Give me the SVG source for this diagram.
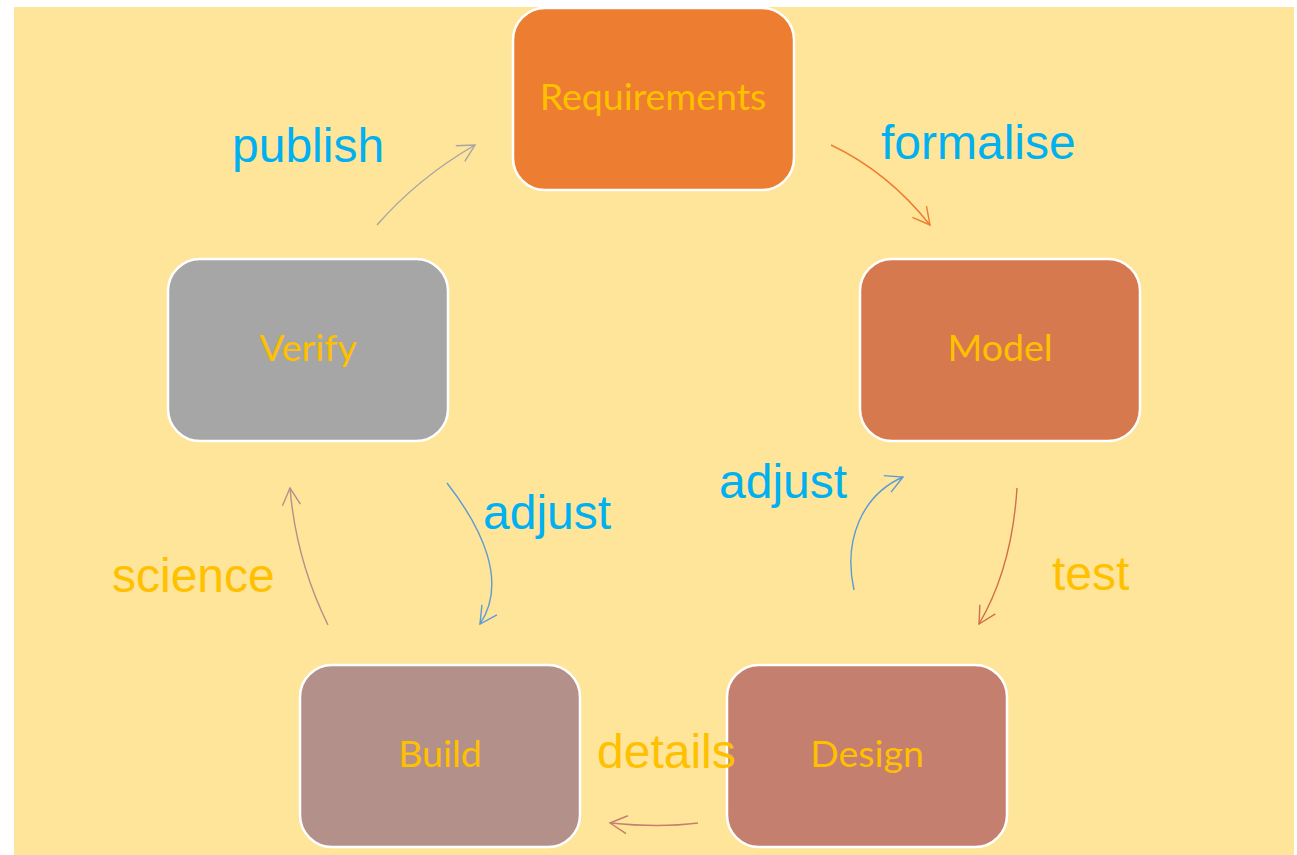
<svg xmlns="http://www.w3.org/2000/svg" width="1297" height="855" viewBox="0 0 1297 855">
  <style>
    .box { stroke: #ffffff; stroke-width: 2.5; }
    .boxlabel { font-family: Lato, "Noto Sans", sans-serif; font-size: 37.5px; fill: #FFC000; text-anchor: middle; }
    .edgelabel { font-family: "Liberation Sans", Arial, sans-serif; font-size: 48px; }
    .blue { fill: #00B0F0; }
    .gold { fill: #FFC000; }
    .conn { fill: none; stroke-width: 1.4; }
  </style>
  <defs>
    <marker id="ah-grey" markerUnits="userSpaceOnUse" markerWidth="40" markerHeight="40" refX="0" refY="0" viewBox="-20 -20 40 40" orient="auto" overflow="visible">
      <path d="M-17,-9 L0,0 L-17,9" fill="none" stroke="#A5A5A5" stroke-width="1.4"/>
    </marker>
    <marker id="ah-orange" markerUnits="userSpaceOnUse" markerWidth="40" markerHeight="40" refX="0" refY="0" viewBox="-20 -20 40 40" orient="auto" overflow="visible">
      <path d="M-17,-9 L0,0 L-17,9" fill="none" stroke="#ED7D31" stroke-width="1.4"/>
    </marker>
    <marker id="ah-rust" markerUnits="userSpaceOnUse" markerWidth="40" markerHeight="40" refX="0" refY="0" viewBox="-20 -20 40 40" orient="auto" overflow="visible">
      <path d="M-17,-9 L0,0 L-17,9" fill="none" stroke="#D26E4E" stroke-width="1.4"/>
    </marker>
    <marker id="ah-rose" markerUnits="userSpaceOnUse" markerWidth="40" markerHeight="40" refX="0" refY="0" viewBox="-20 -20 40 40" orient="auto" overflow="visible">
      <path d="M-17,-9 L0,0 L-17,9" fill="none" stroke="#C47F6E" stroke-width="1.4"/>
    </marker>
    <marker id="ah-taupe" markerUnits="userSpaceOnUse" markerWidth="40" markerHeight="40" refX="0" refY="0" viewBox="-20 -20 40 40" orient="auto" overflow="visible">
      <path d="M-17,-9 L0,0 L-17,9" fill="none" stroke="#B3918A" stroke-width="1.4"/>
    </marker>
    <marker id="ah-blue" markerUnits="userSpaceOnUse" markerWidth="40" markerHeight="40" refX="0" refY="0" viewBox="-20 -20 40 40" orient="auto" overflow="visible">
      <path d="M-17,-9 L0,0 L-17,9" fill="none" stroke="#5B9BD5" stroke-width="1.4"/>
    </marker>
  </defs>

  <!-- backdrop -->
  <rect x="14" y="7" width="1280" height="848" fill="#FFE599"/>

  <!-- connectors -->
  <g id="connectors">
    <path class="conn" stroke="#A5A5A5" marker-end="url(#ah-grey)" d="M377,225 Q418,178 475,145"/>
    <path class="conn" stroke="#ED7D31" marker-end="url(#ah-orange)" d="M831,145 Q888,172 930,225"/>
    <path class="conn" stroke="#D26E4E" marker-end="url(#ah-rust)" d="M1017,488 Q1012,568 979,624"/>
    <path class="conn" stroke="#C47F6E" marker-end="url(#ah-rose)" d="M698,823 Q660,828 610,823"/>
    <path class="conn" stroke="#B3918A" marker-end="url(#ah-taupe)" d="M328,625 Q296,560 290,488"/>
    <path class="conn" stroke="#5B9BD5" marker-end="url(#ah-blue)" d="M447,483 C482,528 508,582 480,624"/>
    <path class="conn" stroke="#5B9BD5" marker-end="url(#ah-blue)" d="M854,590 C843,540 862,495 903,477"/>
  </g>

  <!-- nodes -->
  <g id="requirements">
    <rect class="box" x="513" y="8" width="281" height="182" rx="32" fill="#ED7D31"/>
    <text class="boxlabel" x="653" y="110">Requirements</text>
  </g>
  <g id="model">
    <rect class="box" x="860" y="259" width="280" height="182" rx="32" fill="#D7794F"/>
    <text class="boxlabel" x="1000" y="361">Model</text>
  </g>
  <g id="design">
    <rect class="box" x="727" y="665" width="280" height="182" rx="32" fill="#C47F6E"/>
    <text class="boxlabel" x="867" y="767">Design</text>
  </g>
  <g id="build">
    <rect class="box" x="300" y="665" width="280" height="182" rx="32" fill="#B3918A"/>
    <text class="boxlabel" x="440" y="767">Build</text>
  </g>
  <g id="verify">
    <rect class="box" x="168" y="259" width="280" height="182" rx="32" fill="#A6A6A6"/>
    <text class="boxlabel" x="308" y="361">Verify</text>
  </g>

  <!-- connector labels -->
  <g id="labels">
    <text class="edgelabel blue" x="232" y="162">publish</text>
    <text class="edgelabel blue" x="881" y="159">formalise</text>
    <text class="edgelabel blue" x="483" y="529">adjust</text>
    <text class="edgelabel blue" x="719" y="498">adjust</text>
    <text class="edgelabel gold" x="112" y="592">science</text>
    <text class="edgelabel gold" x="1052" y="590">test</text>
    <text class="edgelabel gold" x="597" y="768">details</text>
  </g>
</svg>
